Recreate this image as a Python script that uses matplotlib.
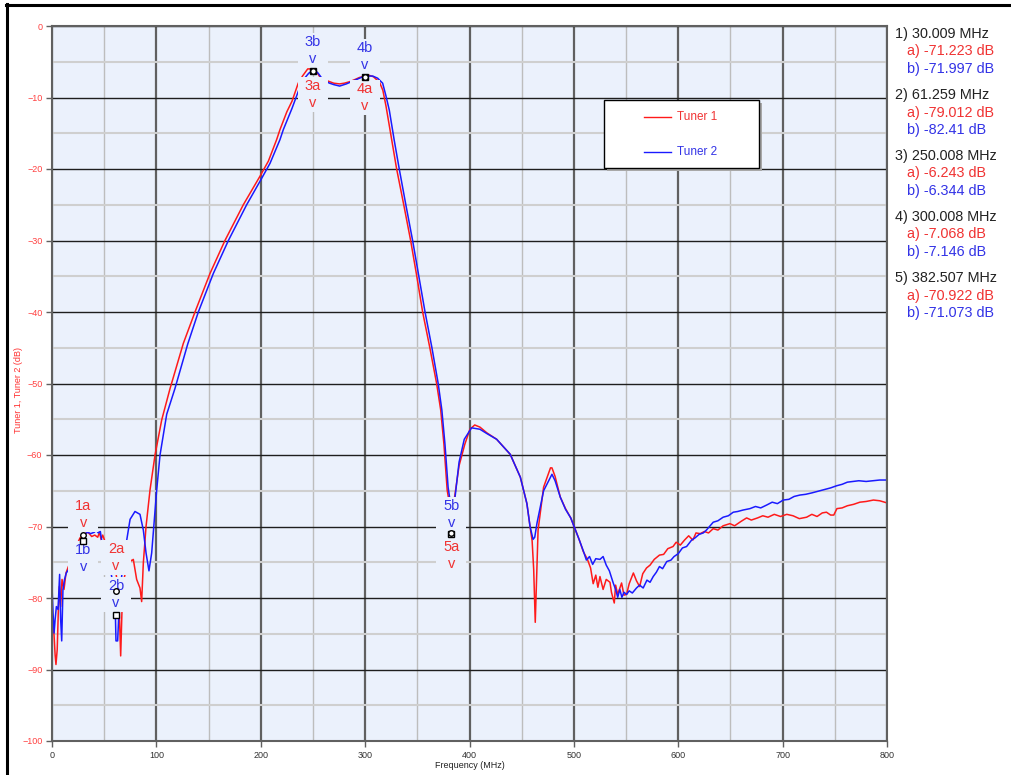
import matplotlib
matplotlib.use("Agg")
import matplotlib.pyplot as plt
from matplotlib.patches import Rectangle
from matplotlib.lines import Line2D

plt.rcParams["font.family"] = ["Liberation Sans", "DejaVu Sans"]

# ---- data ----
freq_t1 = [0, 1, 2, 3, 3.8, 5, 6, 7, 8.3, 9.6, 11.5, 13.4, 15.7, 17.3, 20, 24,
           26.8, 30, 33.8, 35.7, 38, 41, 43.8, 45.5, 47, 48.6, 50.5, 53.3, 56, 60,
           63.5, 64.5, 65.8, 67, 68, 71, 74, 76.3, 77.9, 79.5, 81.1, 84.3, 85.9,
           87.5, 90.1, 93.9, 98.7, 105.1, 113.1, 125.8, 137, 151.4, 165.7, 183.3,
           199.3, 207.3, 215.2, 218.4, 225, 230, 235.9, 240, 245, 250, 253, 257,
           260, 264.4, 270, 275.5, 280, 285, 290, 294.6, 300, 304, 308, 311, 313.6,
           317, 320, 325, 330.2, 337, 343.6, 349.5, 355.1, 362, 368.5, 372.4, 375.5,
           378.6, 381, 382.5, 384, 386, 390, 395.5, 400.4, 405, 410, 416.6, 426,
           439, 448.7, 455, 458, 460, 461.5, 463, 464.5, 465.7, 471, 477.6, 479,
           482, 487, 492, 497, 501, 505, 509, 513, 516, 518.5, 521, 523, 525, 528,
           531, 534.6, 536, 538.7, 540, 542, 545.7, 548, 550.5, 553, 557, 560, 563,
           566, 569.6, 573, 577, 582, 586, 590, 595, 598, 602, 606, 610, 614, 617,
           621, 625, 629, 633.5, 638, 643, 649.5, 654, 660, 665.5, 670, 676, 681,
           686, 692, 698, 704, 710, 716, 723, 728, 733, 738, 742, 746, 749, 752,
           757, 762, 768, 774, 780, 787, 793, 800]
db_t1 = [-82, -83.5, -85.3, -88, -89.3, -87.2, -82.1, -78.4, -81.2, -77.4, -78.8,
         -76.5, -75.6, -75.1, -74.2, -72.5, -71.6, -71.2, -70.8, -71.0, -71.4,
         -71.2, -71.5, -70.8, -71.8, -71.2, -72.0, -72.2, -73.5, -75, -79, -82,
         -88.1, -82, -78, -76, -74.5, -74.8, -74.6, -76, -77.4, -78.6, -80.5,
         -75.1, -70, -64.9, -60, -55.1, -50.7, -44.4, -40, -34.6, -30, -25, -21,
         -18.9, -15.9, -14.5, -12, -10.5, -8.0, -7.0, -6.0, -6.0, -6.3, -7.2,
         -7.6, -7.7, -8.0, -8.1, -8.0, -7.8, -7.5, -7.2, -7.0, -6.9, -7.1, -7.5,
         -7.8, -9.0, -11.2, -15.5, -20, -25, -30, -35, -40, -45, -50, -53.7,
         -58.5, -64.9, -67, -71, -67.5, -65.6, -61.5, -58.5, -56.4, -55.8, -56.1,
         -56.9, -57.8, -59.9, -63.1, -66.8, -70, -72, -76, -83.4, -76, -70.5,
         -64.5, -61.8, -61.8, -63, -65.9, -67.5, -68.8, -70.3, -71.8, -73.5,
         -74.6, -75.8, -78.0, -76.8, -78.5, -77.0, -78.8, -77.4, -77.8, -79.2,
         -80.7, -78.2, -79.5, -77.9, -79.6, -79.5, -78.0, -76.5, -77.6, -78.4,
         -76.6, -75.8, -75.4, -74.6, -74.0, -73.9, -73.1, -72.8, -72.2, -72.6,
         -71.9, -71.3, -71.9, -70.9, -71.0, -70.7, -70.9, -70.3, -70.5, -69.9,
         -69.6, -69.9, -69.3, -68.8, -69.1, -68.8, -68.5, -68.7, -68.3, -68.6,
         -68.3, -68.5, -68.9, -68.7, -68.3, -68.6, -68.1, -68.0, -68.4, -68.4,
         -67.5, -67.4, -67.1, -66.9, -66.6, -66.5, -66.3, -66.4, -66.7]

freq_t2 = [0, 1, 2, 3, 4.2, 5.8, 7.3, 8.3, 9.3, 10.5, 12, 13.7, 16, 20, 25, 28,
           31, 32, 34.2, 37, 40.6, 42.2, 44.4, 46.3, 48, 52, 56, 59.5, 60.7, 61.3,
           62.9, 63.9, 65, 68, 71.6, 74.8, 79.5, 84.3, 87.5, 90.1, 92.9, 95.5,
           98.1, 100.3, 103.5, 109.9, 117.8, 130, 140.2, 154.6, 169, 186.5, 200.9,
           208.9, 218.4, 221.6, 230, 237.6, 242, 246, 250, 252, 255, 260, 266,
           270, 275.6, 282, 290, 297.8, 302, 307.3, 312, 316.8, 320, 323.2, 327.9,
           332.7, 339, 345.5, 351.5, 357.4, 364, 370, 373.5, 376.5, 379.5, 381,
           382.5, 384.5, 386.9, 390, 395, 402, 410, 416.6, 426, 439, 448.7, 455,
           458, 460.9, 462.5, 464.7, 471, 479, 482, 487, 492, 497, 501, 505, 509,
           512, 515, 518, 521, 525, 528, 531, 534, 537.7, 540, 542, 544, 546, 548,
           550.5, 553, 556, 560, 563, 566.4, 570, 573, 576, 579, 582, 585, 589, 593,
           596, 600, 604, 608, 612.8, 616, 620, 624, 627, 630, 633.5, 638, 643,
           648, 652.7, 657, 662, 668.7, 674, 679, 684.7, 690, 695, 700.6, 706, 711,
           716.6, 722, 728, 735.8, 741, 746, 751.8, 757, 762, 767.8, 773, 780, 787,
           793, 800]
db_t2 = [-78.4, -82.1, -84.9, -83, -81.2, -81.6, -76.7, -83, -86, -78.8, -77.4,
         -76.5, -76, -75, -73.5, -72.5, -71.4, -71, -70.8, -71.0, -70.8, -70.5,
         -70.9, -70.7, -72.3, -74, -76, -79, -82.1, -86, -86, -82.6, -79, -75.5,
         -71.9, -69, -67.9, -68.3, -70.5, -73.7, -76.2, -73.7, -69, -64.9, -60,
         -54.3, -50.7, -44.5, -40, -34.6, -30, -25, -21.3, -19.2, -15.9, -14.5,
         -11.5, -8.5, -7.3, -6.6, -6.2, -6.2, -6.6, -7.6, -8.0, -8.2, -8.4, -8.1,
         -7.6, -7.1, -7.0, -7.0, -7.3, -8.0, -9.8, -11.8, -16, -20, -25, -30,
         -35, -40, -45, -50, -53.7, -58.5, -64.5, -66, -71, -68, -65, -61,
         -57.8, -56.2, -56.4, -57, -57.8, -59.9, -63.1, -66.8, -70, -71.8, -71.5,
         -69.5, -65, -62.7, -63.6, -65.9, -67.6, -68.8, -70.3, -71.8, -73.4,
         -74.7, -74.2, -75.3, -74.5, -74.6, -74.2, -75.4, -76.2, -77.9, -78.8,
         -79.9, -78.8, -79.9, -79.2, -79.5, -79.0, -79.3, -78.6, -78.2, -78.6,
         -77.5, -77.8, -77.0, -76.4, -75.6, -75.9, -74.9, -74.7, -74.2, -73.8,
         -73.0, -72.8, -71.9, -71.6, -71.1, -70.9, -70.5, -70.0, -69.4, -69.2,
         -68.7, -68.5, -68.0, -67.9, -67.7, -67.5, -67.2, -67.4, -67.0, -66.6,
         -66.8, -66.3, -66.2, -65.8, -65.6, -65.5, -65.3, -65.0, -64.8, -64.6,
         -64.3, -64.1, -63.8, -63.7, -63.6, -63.7, -63.6, -63.5, -63.5]

marker_freq = [30.009, 61.259, 250.008, 300.008, 382.507]
marker_a = [-71.223, -79.012, -6.243, -7.068, -70.922]
marker_b = [-71.997, -82.41, -6.344, -7.146, -71.073]

# label offsets below each marker point, in pixels (negative = above)
label_off_a = [-29, -42, 15, 12.5, 14]
label_off_b = [9, -29, -29, -29, -28]

RED = "#FF1A1A"
BLUE = "#1A1AFF"
RED_TXT = "#F03333"
BLUE_TXT = "#3333E6"
BG = "#EBF1FC"

W, H = 1011, 775


def fx(x):
    return x / W


def fy(y):
    return 1 - y / H


fig = plt.figure(figsize=(W / 100, H / 100), dpi=100)
ax = fig.add_axes([fx(52), fy(741), 835 / W, 715 / H])
ax.set_facecolor(BG)
ax.set_xlim(0, 800)
ax.set_ylim(-100, 0)
ax.set_xticks(range(0, 801, 100))
ax.set_xticks(range(50, 800, 100), minor=True)
ax.set_yticks(range(-100, 1, 10))
ax.set_yticks(range(-95, 0, 10), minor=True)
ax.grid(which="major", axis="x", color="#606060", lw=1.6)
ax.grid(which="minor", axis="x", color="#BDBDBD", lw=1.0)
ax.grid(which="major", axis="y", color="#1E1E1E", lw=1.0)
ax.grid(which="minor", axis="y", color="#CFCFCF", lw=1.5)
ax.set_axisbelow(True)
for s in ax.spines.values():
    s.set_color("#606060")
    s.set_linewidth(1.5)
ax.tick_params(which="minor", length=0)
ax.tick_params(which="major", length=4, width=1, color="#606060", labelsize=6.5, pad=3)
ax.tick_params(axis="y", labelcolor="#FF4040")
ax.tick_params(axis="x", labelcolor="#333333")

ax.plot(freq_t1, db_t1, color=RED, lw=1.1, zorder=2)
ax.plot(freq_t2, db_t2, color=BLUE, lw=1.1, zorder=2.1)

mhz_px = 800 / 835
db_px = 100 / 715


def marker_label(f, db, text, off, color):
    # background box hiding grid and traces, then the label and a "v"
    top = db - (off - 9) * db_px
    bot = db - (off + 17 + 9) * db_px
    ax.add_patch(Rectangle((f - 15 * mhz_px, bot), 30 * mhz_px, top - bot,
                           facecolor=BG, edgecolor="none", zorder=3))
    ax.annotate(text, (f, db), xytext=(0, -off), textcoords="offset pixels",
                ha="center", va="center", color=color, fontsize=10.5, zorder=5)
    ax.annotate("v", (f, db), xytext=(0, -off - 17), textcoords="offset pixels",
                ha="center", va="center", color=color, fontsize=10.5, zorder=5)


for i, f in enumerate(marker_freq):
    marker_label(f, marker_a[i], f"{i + 1}a", label_off_a[i], RED_TXT)
    marker_label(f, marker_b[i], f"{i + 1}b", label_off_b[i], BLUE_TXT)

ax.plot(marker_freq, marker_b, ls="none", marker="s", ms=4, mfc="white",
        mec="black", mew=1, zorder=6)
ax.plot(marker_freq, marker_a, ls="none", marker="o", ms=4, mfc="white",
        mec="black", mew=1, zorder=6)

# axis titles
fig.text(fx(19), fy(390), "Tuner 1, Tuner 2 (dB)", rotation=90, color="#FF3030",
         fontsize=6.5, ha="center", va="center")
fig.text(fx(470), fy(766), "Frequency (MHz)", color="#222222", fontsize=6.5,
         ha="center", va="center")

# legend box
fig.add_artist(Rectangle((fx(607), fy(171)), 155 / W, 68 / H, transform=fig.transFigure,
                         facecolor="#A8A8A8", edgecolor="none"))
fig.add_artist(Rectangle((fx(604), fy(168)), 155 / W, 68 / H, transform=fig.transFigure,
                         facecolor="white", edgecolor="black", lw=1))
for name, col, tcol, y in [("Tuner 1", RED, RED_TXT, 117), ("Tuner 2", BLUE, BLUE_TXT, 152)]:
    fig.add_artist(Line2D([fx(644), fx(671)], [fy(y), fy(y)], color=col, lw=1.0))
    fig.text(fx(677), fy(y), name, color=tcol, fontsize=8.5, va="center")

# marker readout on the right
for i, f in enumerate(marker_freq):
    y0 = 34 + i * 61
    fig.text(fx(895), fy(y0), f"{i + 1}) {f:g} MHz", color="#222222", fontsize=10.4, va="center")
    fig.text(fx(907), fy(y0 + 17.5), f"a) {marker_a[i]:g} dB", color=RED_TXT, fontsize=10.4, va="center")
    fig.text(fx(907), fy(y0 + 35), f"b) {marker_b[i]:g} dB", color=BLUE_TXT, fontsize=10.4, va="center")

# outer frame (left and top edges)
fig.add_artist(Line2D([fx(7), fx(7)], [fy(4), fy(775)], color="black", lw=2.2))
fig.add_artist(Line2D([fx(6), fx(1011)], [fy(5), fy(5)], color="black", lw=2.2))

fig.savefig("out.png", dpi=100, facecolor="white")
